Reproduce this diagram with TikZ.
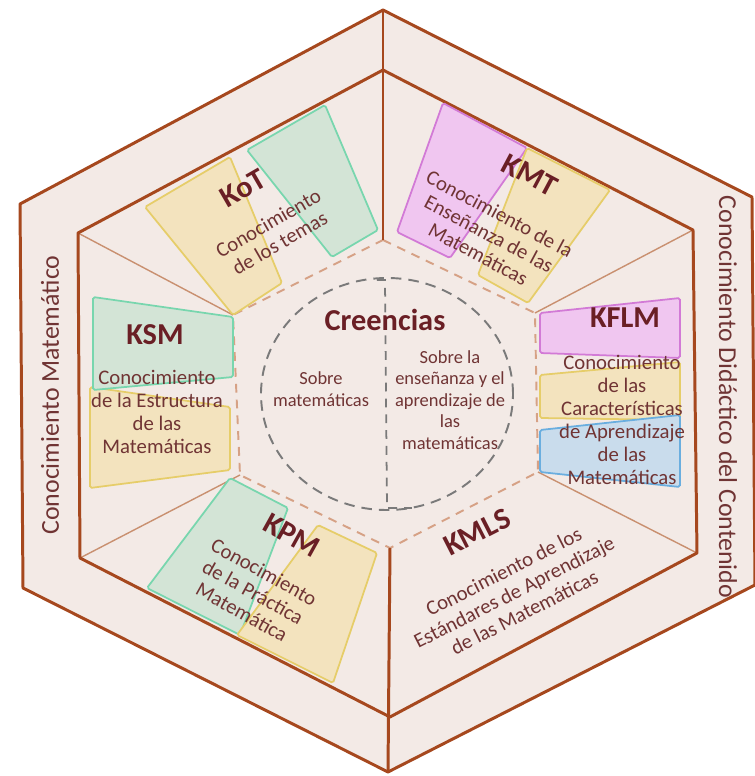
\documentclass[tikz,border=0pt]{standalone}
\usepackage{fontspec}
\setmainfont{Carlito}
\usepackage{tikz}
\usetikzlibrary{calc}

\definecolor{hexfill}{RGB}{243,234,230}
\definecolor{rimcol}{RGB}{166,72,30}
\definecolor{spokecol}{RGB}{201,144,112}
\definecolor{dashcol}{RGB}{214,161,133}
\definecolor{circcol}{RGB}{122,122,122}
\definecolor{ktext}{RGB}{112,52,52}
\definecolor{kdark}{RGB}{106,31,37}
\definecolor{yfill}{RGB}{243,227,190}
\definecolor{yedge}{RGB}{230,205,105}
\definecolor{gfill}{RGB}{211,228,214}
\definecolor{gedge}{RGB}{120,214,174}
\definecolor{pfill}{RGB}{240,198,240}
\definecolor{pedge}{RGB}{210,122,214}
\definecolor{bfill}{RGB}{201,220,236}
\definecolor{bedge}{RGB}{106,174,223}

\begin{document}
\begin{tikzpicture}[scale=0.2,
    rim/.style={draw=rimcol, line width=1.7pt, line join=round},
    spoke/.style={draw=spokecol, line width=0.8pt},
    hexdash/.style={draw=dashcol, line width=1.1pt, dash pattern=on 5pt off 4pt},
    ybox/.style={fill=yfill, draw=yedge, line width=1pt, rounded corners=1pt},
    gbox/.style={fill=gfill, draw=gedge, line width=1pt, rounded corners=1pt},
    pbox/.style={fill=pfill, draw=pedge, line width=1pt, rounded corners=1pt},
    bbox/.style={fill=bfill, draw=bedge, line width=1pt, rounded corners=1pt},
    lbl/.style={text=kdark, font=\fontsize{17.3}{20}\selectfont\bfseries},
    txt/.style={text=ktext, align=center, font=\fontsize{11.8}{13}\selectfont},
    stxt/.style={text=ktext, align=center, font=\fontsize{10.5}{12.2}\selectfont},
    side/.style={text=ktext, font=\fontsize{14.7}{17}\selectfont}]
    \tikzstyle{every node}+=[inner sep=0pt]
    \useasboundingbox (0,0) rectangle (75.5,-77.6);
    \coordinate (o1) at (38.3,-1.0);
    \coordinate (o2) at (75.2,-19.7);
    \coordinate (o3) at (75.5,-58.5);
    \coordinate (o4) at (38.8,-77.2);
    \coordinate (o5) at (2.3,-58.8);
    \coordinate (o6) at (2.0,-20.4);
    \coordinate (i1) at (38.3,-7.0);
    \coordinate (i2) at (69.3,-23.0);
    \coordinate (i3) at (69.7,-55.3);
    \coordinate (i4) at (39.0,-71.7);
    \coordinate (i5) at (8.0,-55.8);
    \coordinate (i6) at (7.8,-23.3);
    \coordinate (d1) at (38.3,-24.0);
    \coordinate (d2) at (53.5,-31.3);
    \coordinate (d3) at (53.8,-47.2);
    \coordinate (d4) at (39.0,-54.8);
    \coordinate (d5) at (24.0,-47.5);
    \coordinate (d6) at (23.3,-31.5);
    \coordinate (cc) at (38.7,-39.4);
    \coordinate (ct) at (38.5,-28.0);
    \coordinate (cb) at (38.7,-50.8);
    \fill [hexfill] (o1) -- (o2) -- (o3) -- (o4) -- (o5) -- (o6) -- cycle;
    \draw [spoke] (i2) -- (d2);
    \draw [spoke] (i3) -- (d3);
    \draw [spoke] (i5) -- (d5);
    \draw [spoke] (i6) -- (d6);
    \draw [hexdash] (d1) -- (d2) -- (d3) -- (d4) -- (d5) -- (d6) -- cycle;
    \draw [circcol, line width=1.1pt, dash pattern=on 6pt off 4pt] (cc) ellipse (12.6 and 11.6);
    \draw [circcol, line width=1pt, dash pattern=on 5pt off 4pt] ($(ct)+(-0.8,0)$) -- (ct) -- (cb) -- ($(cb)+(2.5,0)$);
    \draw [rim] (o1) -- (o2) -- (o3) -- (o4) -- (o5) -- (o6) -- cycle;
    \draw [rim] (i1) -- (i2) -- (i3) -- (i4) -- (i5) -- (i6) -- cycle;
    \draw [rim] (o1) -- (d1);
    \draw [rim] (o4) -- (d4);
    \draw [ybox] (14.5,-20.7) -- (23.0,-15.7) -- (28.2,-28.3) -- (23.3,-31.5) -- cycle;
    \draw [gbox] (24.7,-15.0) -- (32.5,-10.5) -- (37.8,-23.0) -- (33.2,-25.7) -- cycle;
    \draw [ybox] (9.0,-38.7) -- (23.0,-40.7) -- (23.0,-47.0) -- (9.0,-48.8) -- cycle;
    \draw [gbox] (9.3,-29.7) -- (23.3,-31.7) -- (23.3,-37.7) -- (9.3,-39.0) -- cycle;
    \draw [pbox] (44.3,-10.3) -- (52.7,-14.8) -- (45.0,-25.8) -- (39.7,-23.2) -- cycle;
    \draw [ybox] (52.7,-14.8) -- (61.0,-19.0) -- (52.8,-30.3) -- (47.8,-27.5) -- cycle;
    \draw [pbox] (54.0,-31.3) -- (68.0,-29.8) -- (68.0,-35.8) -- (54.0,-35.3) -- cycle;
    \draw [ybox] (54.0,-37.5) -- (68.0,-36.2) -- (68.0,-42.0) -- (54.0,-41.8) -- cycle;
    \draw [bbox] (54.0,-43.0) -- (68.0,-41.5) -- (68.0,-48.7) -- (54.0,-47.2) -- cycle;
    \draw [gbox] (23.0,-47.8) -- (28.8,-50.8) -- (24.0,-63.5) -- (14.7,-58.8) -- cycle;
    \draw [ybox] (31.8,-52.5) -- (37.7,-55.3) -- (33.3,-68.3) -- (23.7,-63.5) -- cycle;
    \draw (5.0,-39.5) node (mat) [side, rotate=90] {Conocimiento Matemático};
    \draw (72.8,-39.7) node (dcc) [side, rotate=-90] {Conocimiento Didáctico del Contenido};
    \draw (24.3,-18.8) node (kot) [lbl, rotate=30] {KoT};
    \draw (27.4,-23.3) node (kottxt) [txt, rotate=30] {Conocimiento\\de los temas};
    \draw (53.0,-17.5) node (kmt) [lbl, rotate=-28] {KMT};
    \draw (48.9,-23.4) node (kmttxt) [txt, rotate=-28] {Conocimiento de la\\Enseñanza de las\\Matemáticas};
    \draw (15.5,-33.5) node (ksm) [lbl] {KSM};
    \draw (15.7,-41.2) node (ksmtxt) [txt] {Conocimiento\\de la Estructura\\de las\\Matemáticas};
    \draw (62.5,-31.8) node (kflm) [lbl] {KFLM};
    \draw (62.2,-42.0) node (kflmtxt) [txt] {Conocimiento\\de las\\Características\\de Aprendizaje\\de las\\Matemáticas};
    \draw (29.2,-53.5) node (kpm) [lbl, rotate=-29] {KPM};
    \draw (25.3,-59.2) node (kpmtxt) [txt, rotate=-29] {Conocimiento\\de la Práctica\\Matemática};
    \draw (47.7,-53.2) node (kmls) [lbl, rotate=27] {KMLS};
    \draw (51.4,-59.2) node (kmlstxt) [txt, rotate=27] {Conocimiento de los\\Estándares de Aprendizaje\\de las Matemáticas};
    \draw (38.5,-32.0) node (cre) [lbl] {Creencias};
    \draw (32.1,-38.9) node (sm) [stxt] {Sobre\\matemáticas};
    \draw (45.0,-40.0) node (se) [stxt] {Sobre la\\enseñanza y el\\aprendizaje de\\las\\matemáticas};
\end{tikzpicture}
\end{document}
